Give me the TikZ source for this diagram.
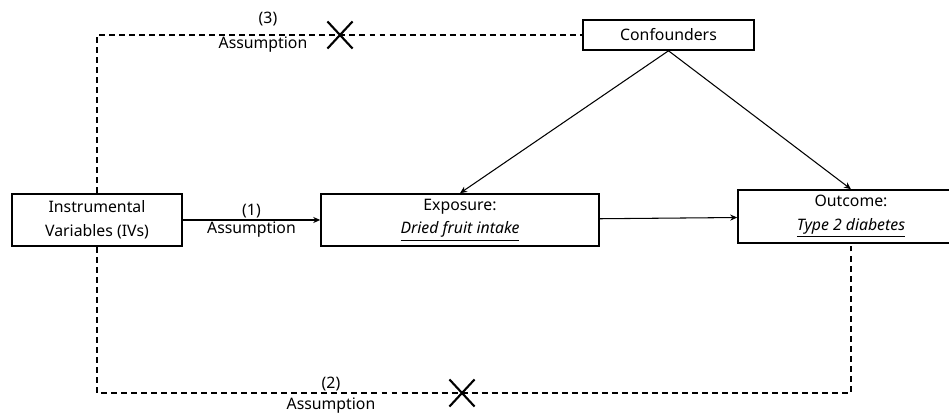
\documentclass[tikz,border=0pt]{standalone}
\usepackage{fontspec}
\setmainfont{Noto Sans}
\usetikzlibrary{arrows.meta,shapes.misc}
\tikzset{
  mrbox/.style={rectangle, draw=black, line width=0.9pt, align=center, inner sep=2pt,
    font=\fontsize{9}{13.5}\selectfont},
  mrlink/.style={-{Stealth[length=4pt,width=3.5pt]}, line width=0.6pt, draw=black},
  mrdash/.style={line width=0.8pt, dash pattern=on 3.4pt off 2.3pt, draw=black},
  nopath/.style={cross out, draw=black, line width=1.2pt, minimum width=0.46cm, minimum height=0.5cm, inner sep=0pt},
  assum/.style={font=\fontsize{9}{11}\selectfont, inner sep=1pt}
}

\begin{document}
\begin{tikzpicture}
  \useasboundingbox (0,0) rectangle (18.98,8.28);

  \node[mrbox, minimum width=3.4cm, minimum height=1.04cm] (iv) at (1.94,3.88) {Instrumental\\Variables (IVs)};
  \node[mrbox, minimum width=5.56cm, minimum height=1.04cm] (expo) at (9.2,3.88) {Exposure:\\\textit{\underline{Dried fruit intake}}};
  \node[mrbox, minimum width=4.52cm, minimum height=1.06cm] (outc) at (17.02,3.95) {Outcome:\\\textit{\underline{Type 2 diabetes}}};
  \node[mrbox, minimum width=3.42cm, minimum height=0.6cm] (conf) at (13.37,7.58) {Confounders};
  \coordinate (lowline) at (0,0.42);

  \draw[mrlink] (iv) -- node[assum, above] {(1)} node[assum, below] {Assumption} (expo);
  \draw[mrlink] (expo) -- (outc);
  \draw[mrlink] (conf.south) -- (expo.north);
  \draw[mrlink] (conf.south) -- (outc.north);

  \draw[mrdash] (iv.north) |- (conf.west);
  \draw[mrdash] (iv.south) -- (iv.south |- lowline) -| (outc.south);

  \node[nopath] (x3) at (6.8,7.58) {};
  \node[nopath] (x2) at (9.24,0.42) {};

  \node[assum] (n3) at (5.36,7.9) {(3)};
  \node[assum] (a3) at (5.26,7.38) {Assumption};
  \node[assum] (n2) at (6.62,0.59) {(2)};
  \node[assum] (a2) at (6.62,0.17) {Assumption};
\end{tikzpicture}
\end{document}
